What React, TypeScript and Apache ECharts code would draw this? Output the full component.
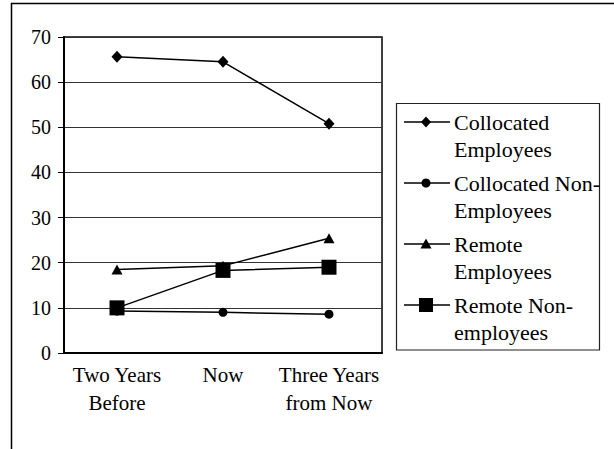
import React, { useEffect, useRef } from "react";
import * as echarts from "echarts";

const categories = ["Two Years\nBefore", "Now", "Three Years\nfrom Now"];
const seriesNames = [
  "Collocated\nEmployees",
  "Collocated Non-\nEmployees",
  "Remote\nEmployees",
  "Remote Non-\nemployees",
];
const collocatedEmployees = [65.6, 64.5, 50.8];
const collocatedNonEmployees = [9.3, 9.0, 8.6];
const remoteEmployees = [18.5, 19.3, 25.4];
const remoteNonEmployees = [10.0, 18.3, 19.0];
const yTicks = { min: 0, max: 70, interval: 10 };

const FONT = "'Liberation Serif', 'Times New Roman', serif";

export default function App() {
  const ref = useRef<HTMLDivElement>(null);

  useEffect(() => {
    if (!ref.current) return;
    const chart = echarts.init(ref.current, undefined, { renderer: "svg" });

    const symbols = ["diamond", "circle", "triangle", "rect"];
    const sizes: any[] = [[11, 12], 9, [11, 10], 15];
    const data = [collocatedEmployees, collocatedNonEmployees, remoteEmployees, remoteNonEmployees];

    const series = data.map((d, i) => ({
      name: seriesNames[i].replace("\n", " "),
      type: "line",
      data: d,
      symbol: symbols[i],
      symbolSize: sizes[i],
      showAllSymbol: true,
      lineStyle: { color: "#000", width: 1.5 },
      itemStyle: { color: "#000", borderWidth: 0 },
      z: 2 + i,
    }));

    const legendTop = [122, 183, 244, 305];
    const lx0 = 404, lx1 = 450, mx = 426, tx = 454;
    const legendEls: any[] = [
      {
        type: "rect",
        shape: { x: 396.5, y: 103.5, width: 203, height: 246.5 },
        style: { fill: "#fff", stroke: "#222", lineWidth: 1.2 },
        z: 10,
      },
    ];
    seriesNames.forEach((name, i) => {
      const cy = legendTop[i];
      legendEls.push({
        type: "line",
        shape: { x1: lx0, y1: cy, x2: lx1, y2: cy },
        style: { stroke: "#000", lineWidth: 1.5 },
        z: 11,
      });
      let marker: any;
      if (i === 0) {
        marker = { type: "polygon", shape: { points: [[mx, cy - 5.5], [mx + 5, cy], [mx, cy + 5.5], [mx - 5, cy]] } };
      } else if (i === 1) {
        marker = { type: "circle", shape: { cx: mx, cy, r: 4.5 } };
      } else if (i === 2) {
        marker = { type: "polygon", shape: { points: [[mx, cy - 5.5], [mx + 5.5, cy + 4.5], [mx - 5.5, cy + 4.5]] } };
      } else {
        marker = { type: "rect", shape: { x: mx - 7, y: cy - 7, width: 14, height: 14 } };
      }
      marker.style = { fill: "#000" };
      marker.z = 12;
      legendEls.push(marker);
      legendEls.push({
        type: "text",
        x: tx,
        y: cy - 13.5,
        style: {
          text: name,
          fontFamily: FONT,
          fontSize: 22,
          fill: "#000",
          lineHeight: 27,
          verticalAlign: "top",
          align: "left",
        },
        z: 12,
      });
    });

    chart.setOption({
      animation: false,
      backgroundColor: "#fff",
      textStyle: { fontFamily: FONT },
      grid: {
        left: 64,
        right: 232,
        top: 37,
        bottom: 96,
        show: true,
        borderColor: "#000",
        borderWidth: 1.5,
        containLabel: false,
      },
      xAxis: {
        type: "category",
        data: categories,
        boundaryGap: true,
        axisLine: { lineStyle: { color: "#000", width: 2 } },
        axisTick: { show: false },
        axisLabel: {
          color: "#000",
          fontFamily: FONT,
          fontSize: 21,
          lineHeight: 28,
          margin: 8,
          interval: 0,
        },
        splitLine: { show: false },
      },
      yAxis: {
        type: "value",
        min: yTicks.min,
        max: yTicks.max,
        interval: yTicks.interval,
        axisLine: { show: true, lineStyle: { color: "#000", width: 2 } },
        axisTick: { show: true, length: 6, lineStyle: { color: "#000", width: 1 } },
        axisLabel: { color: "#000", fontFamily: FONT, fontSize: 20, margin: 13 },
        splitLine: { show: true, lineStyle: { color: "#333", width: 1 } },
      },
      series,
      graphic: [
        {
          type: "line",
          shape: { x1: 11, y1: 3.5, x2: 620, y2: 3.5 },
          style: { stroke: "#000", lineWidth: 1.5 },
        },
        {
          type: "line",
          shape: { x1: 11.5, y1: 3, x2: 11.5, y2: 460 },
          style: { stroke: "#000", lineWidth: 1.5 },
        },
        ...legendEls,
      ],
    });

    return () => chart.dispose();
  }, []);

  return (
    <div
      ref={ref}
      style={{ position: "absolute", left: 0, top: 0, width: 614, height: 449 }}
    />
  );
}
